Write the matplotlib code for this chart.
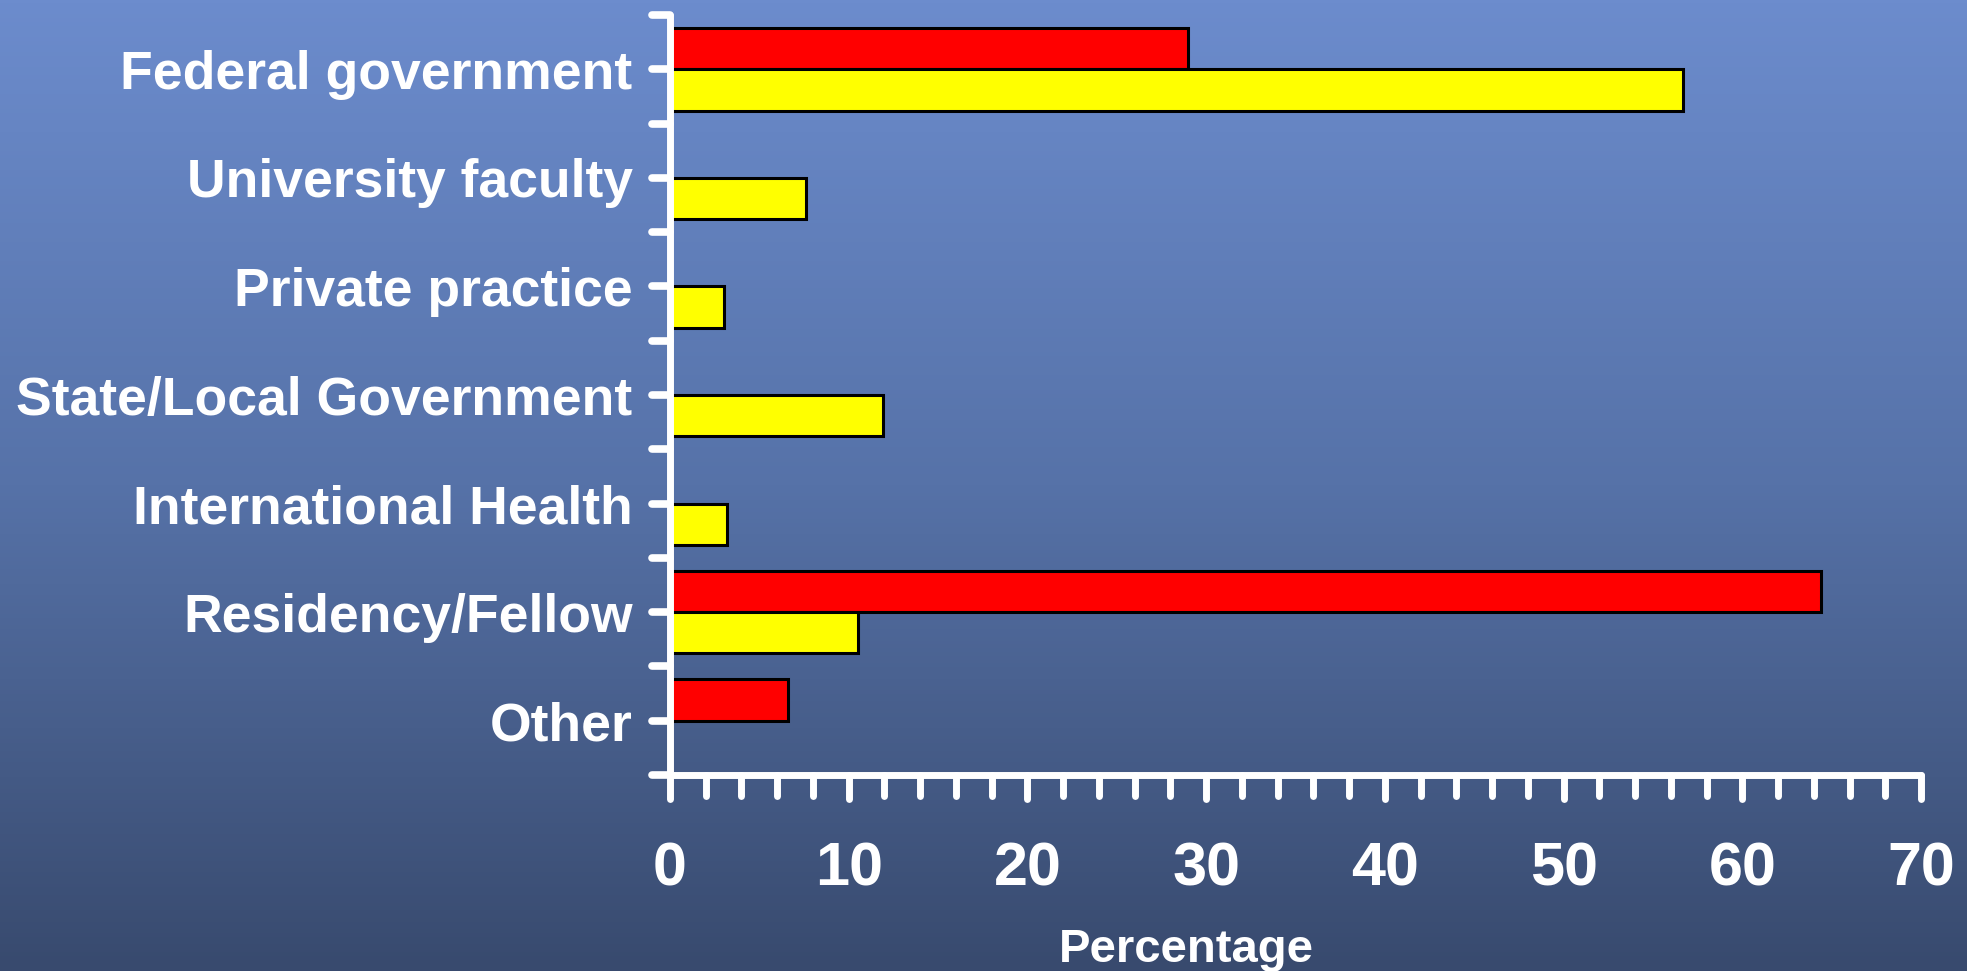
import numpy as np
import matplotlib
matplotlib.use("Agg")
import matplotlib.pyplot as plt
import matplotlib.lines as mlines
from matplotlib.markers import MarkerStyle
from matplotlib.colors import LinearSegmentedColormap

# data (percent)
categories = ["Federal government", "University faculty", "Private practice",
              "State/Local Government", "International Health",
              "Residency/Fellow", "Other"]
red_values = [29.0, 0, 0, 0, 0, 64.4, 6.6]
yellow_values = [56.7, 7.6, 3.0, 11.9, 3.2, 10.5, 0]
xticks = [0, 10, 20, 30, 40, 50, 60, 70]

W, H = 1967, 971
fig = plt.figure(figsize=(W / 100, H / 100), dpi=100)

# background gradient
bg = fig.add_axes([0, 0, 1, 1], zorder=0)
cmap = LinearSegmentedColormap.from_list("bg", ["#6C8CCD", "#5672A8", "#384A6E"])
grad = np.linspace(0, 1, 256).reshape(-1, 1)
bg.imshow(grad, cmap=cmap, aspect="auto", extent=[0, 1, 0, 1])
bg.axis("off")

# plot area in pixels: x 670..1921, y 15..775 (from top)
ax = fig.add_axes([670 / W, (H - 775) / H, 1251 / W, 760 / H], zorder=1)
ax.set_facecolor("none")

pos = np.arange(len(categories)) + 0.5
h = 0.38
ax.barh(pos - h / 2, red_values, height=h, color="#FF0000", edgecolor="black", linewidth=2.2, zorder=2)
ax.barh(pos + h / 2, yellow_values, height=h, color="#FFFF00", edgecolor="black", linewidth=2.2, zorder=2)

ax.set_xlim(0, 70)
ax.set_ylim(7, 0)

for side in ["top", "right"]:
    ax.spines[side].set_visible(False)
for side in ["left", "bottom"]:
    sp = ax.spines[side]
    sp.set_color("white")
    sp.set_linewidth(5)
    sp.set_capstyle("round")
    sp.set_zorder(3)

# y axis: labels at category centres, ticks at centres and boundaries
ax.set_yticks(pos)
ax.set_yticklabels(categories)
ax.set_yticks(np.arange(0, 8), minor=True)
ax.tick_params(axis="y", which="both", colors="white", length=13, width=5.5, pad=14)
for lab in ax.get_yticklabels():
    lab.set_fontfamily(["Liberation Sans", "DejaVu Sans"])
    lab.set_fontweight("bold")
    lab.set_fontsize(38.5)
    lab.set_color("white")

# x axis
ax.set_xticks(xticks)
ax.set_xticklabels([str(v) for v in xticks])
ax.set_xticks(np.arange(0, 71, 2), minor=True)
ax.tick_params(axis="x", which="major", colors="white", length=17, width=5, pad=31)
ax.tick_params(axis="x", which="minor", colors="white", length=15, width=5)
for lab in ax.get_xticklabels():
    lab.set_fontfamily(["Liberation Sans", "DejaVu Sans"])
    lab.set_fontweight("bold")
    lab.set_fontsize(44)
    lab.set_color("white")

# rounded tick ends
for axis, mk in [(ax.yaxis, mlines.TICKLEFT), (ax.xaxis, mlines.TICKDOWN)]:
    for t in axis.get_major_ticks() + axis.get_minor_ticks():
        t.tick1line.set_marker(MarkerStyle(mk, capstyle="round"))

fig.text(1186 / W, (H - 962) / H, "Percentage", ha="center", va="baseline",
         color="white", fontsize=34, fontweight="bold", family=["Liberation Sans", "DejaVu Sans"])

fig.savefig("out.png", dpi=100)
